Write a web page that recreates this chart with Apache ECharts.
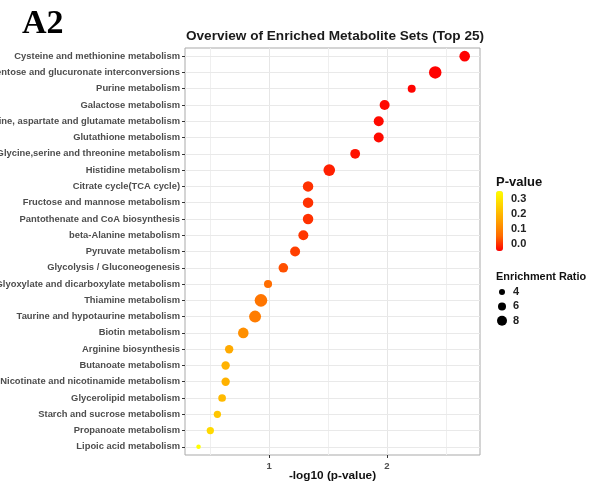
<!DOCTYPE html>
<html>
<head>
<meta charset="utf-8">
<script src="https://cdn.jsdelivr.net/npm/echarts@6/dist/echarts.min.js"></script>
<style>
  html, body { margin: 0; padding: 0; background: #ffffff; }
  #chart { width: 589px; height: 484px; }
</style>
</head>
<body>
<div id="chart"></div>
<script>
// Top 25 enriched metabolite sets, ordered top to bottom
const pathways = [
  'Cysteine and methionine metabolism',
  'Pentose and glucuronate interconversions',
  'Purine metabolism',
  'Galactose metabolism',
  'Alanine, aspartate and glutamate metabolism',
  'Glutathione metabolism',
  'Glycine,serine and threonine metabolism',
  'Histidine metabolism',
  'Citrate cycle(TCA cycle)',
  'Fructose and mannose metabolism',
  'Pantothenate and CoA biosynthesis',
  'beta-Alanine metabolism',
  'Pyruvate metabolism',
  'Glycolysis / Gluconeogenesis',
  'Glyoxylate and dicarboxylate metabolism',
  'Thiamine metabolism',
  'Taurine and hypotaurine metabolism',
  'Biotin metabolism',
  'Arginine biosynthesis',
  'Butanoate metabolism',
  'Nicotinate and nicotinamide metabolism',
  'Glycerolipid metabolism',
  'Starch and sucrose metabolism',
  'Propanoate metabolism',
  'Lipoic acid metabolism'
];

// -log10(p-value) of each set
const negLog10P = [
  2.66, 2.41, 2.21, 1.98, 1.93, 1.93, 1.73, 1.51, 1.33, 1.33, 1.33, 1.29, 1.22,
  1.12, 0.99, 0.93, 0.88, 0.78, 0.66, 0.63, 0.63, 0.60, 0.56, 0.50, 0.40
];

// Enrichment ratio of each set
const enrichmentRatio = [
  8.6, 10.5, 6.0, 8.0, 8.0, 8.0, 7.8, 9.6, 8.5, 8.5, 8.5, 8.0, 8.0,
  7.6, 6.1, 10.6, 10.0, 8.6, 6.4, 6.4, 6.4, 5.7, 5.3, 5.3, 2.5
];

// Axis ticks and grid lines
const xTickValues = [1, 2];
const xMinorGrid = [0.5, 1.5, 2.5];

// Legend entries
const pLegendTicks = [0.3, 0.2, 0.1, 0.0];
const sizeLegendValues = [4, 6, 8];

// Dot diameter (px) for an enrichment ratio
function dotSize(ratio) {
  return 2 + ratio;
}

const pValues = negLog10P.map(v => Math.pow(10, -v));
const pMin = Math.min.apply(null, pValues);
const pMax = Math.max.apply(null, pValues);

const points = pathways.map((name, i) => [negLog10P[i], name, enrichmentRatio[i], pValues[i]]);

const FONT = '"Liberation Sans", Arial, Helvetica, sans-serif';
const axisTextColor = '#4d4d4d';

// Grid lines drawn through the axes' own scales
const gridLines = []
  .concat(xTickValues.map(v => ({ xAxis: v, lineStyle: { color: '#e6e6e6', width: 1, type: 'solid' } })))
  .concat(xMinorGrid.map(v => ({ xAxis: v, lineStyle: { color: '#efefef', width: 1, type: 'solid' } })))
  .concat(pathways.map(c => ({ yAxis: c, lineStyle: { color: '#e9e9e9', width: 1, type: 'solid' } })));

// Colour-bar tick labels and size-legend items
const legendGraphics = [];
const barLabelX = 511, barZeroY = 243.7, barPxPerUnit = 149;
pLegendTicks.forEach(v => {
  legendGraphics.push({
    type: 'text',
    style: {
      text: v.toFixed(1), x: barLabelX, y: barZeroY - v * barPxPerUnit,
      font: 'bold 11px ' + FONT, fill: '#222',
      textAlign: 'left', textVerticalAlign: 'middle', align: 'left', verticalAlign: 'middle'
    }
  });
});
const sizeLegendTop = 292, sizeLegendStep = 14.4;
sizeLegendValues.forEach((v, i) => {
  const cy = sizeLegendTop + i * sizeLegendStep;
  legendGraphics.push({
    type: 'circle',
    shape: { cx: 502, cy: cy, r: dotSize(v) / 2 },
    style: { fill: '#000' }
  });
  legendGraphics.push({
    type: 'text',
    style: {
      text: String(v), x: 513, y: cy,
      font: 'bold 11px ' + FONT, fill: '#222',
      textAlign: 'left', textVerticalAlign: 'middle', align: 'left', verticalAlign: 'middle'
    }
  });
});

const chart = echarts.init(document.getElementById('chart'), null, { renderer: 'canvas' });

chart.setOption({
  animation: false,
  backgroundColor: '#ffffff',
  grid: {
    left: 185, right: 109, top: 48, bottom: 29,
    show: true, borderColor: '#a9a9a9', borderWidth: 1, backgroundColor: 'transparent',
    containLabel: false, outerBoundsMode: 'none'
  },
  xAxis: {
    type: 'value',
    min: 0.285, max: 2.79,
    axisLine: { show: false },
    splitLine: { show: false },
    axisTick: { show: true, customValues: xTickValues, length: 3, lineStyle: { color: '#333' } },
    axisLabel: {
      customValues: xTickValues, margin: 6,
      fontSize: 9.6, fontWeight: 'bold', fontFamily: FONT, color: axisTextColor
    },
    name: '-log10 (p-value)',
    nameLocation: 'middle',
    nameGap: 15,
    nameMoveOverlap: false,
    nameTextStyle: { fontSize: 11.8, fontWeight: 'bold', fontFamily: FONT, color: '#111', verticalAlign: 'top' }
  },
  yAxis: {
    type: 'category',
    data: pathways,
    inverse: true,
    axisLine: { show: false },
    splitLine: { show: false },
    axisTick: { show: true, alignWithLabel: true, length: 3, lineStyle: { color: '#333' } },
    axisLabel: {
      interval: 0, margin: 5,
      fontSize: 9.4, fontWeight: 'bold', fontFamily: FONT, color: axisTextColor
    }
  },
  visualMap: {
    type: 'continuous',
    seriesIndex: 1,
    dimension: 3,
    min: pMin, max: pMax,
    calculable: false,
    hoverLink: false,
    orient: 'vertical',
    left: 496, top: 191,
    padding: 0,
    itemWidth: 7, itemHeight: 60,
    text: null,
    inRange: { color: ['#FF0000', '#FF6C00', '#FFA100', '#FFD100', '#FFFF00'] }
  },
  graphic: [
    {
      type: 'text',
      style: {
        text: 'A2', x: 22, y: 24,
        font: 'bold 34px "Liberation Serif", "Times New Roman", serif', fill: '#000',
        textAlign: 'left', textVerticalAlign: 'middle', align: 'left', verticalAlign: 'middle'
      }
    },
    {
      type: 'text',
      style: {
        text: 'Overview of Enriched Metabolite Sets (Top 25)', x: 335, y: 36,
        font: 'bold 13.6px ' + FONT, fill: '#1a1a1a',
        textAlign: 'center', textVerticalAlign: 'middle', align: 'center', verticalAlign: 'middle'
      }
    },
    {
      type: 'text',
      style: {
        text: 'P-value', x: 496, y: 182,
        font: 'bold 13px ' + FONT, fill: '#111',
        textAlign: 'left', textVerticalAlign: 'middle', align: 'left', verticalAlign: 'middle'
      }
    },
    {
      type: 'text',
      style: {
        text: 'Enrichment Ratio', x: 496, y: 277,
        font: 'bold 10.9px ' + FONT, fill: '#111',
        textAlign: 'left', textVerticalAlign: 'middle', align: 'left', verticalAlign: 'middle'
      }
    }
  ].concat(legendGraphics),
  series: [
    {
      type: 'line',
      data: [],
      z: 1,
      silent: true,
      markLine: {
        z: 1,
        silent: true,
        symbol: ['none', 'none'],
        label: { show: false },
        emphasis: { disabled: true },
        animation: false,
        data: gridLines
      }
    },
    {
      type: 'scatter',
      z: 3,
      data: points,
      encode: { x: 0, y: 1 },
      symbol: 'circle',
      symbolSize: v => dotSize(v[2]),
      itemStyle: { opacity: 1 }
    }
  ]
});
</script>
</body>
</html>
